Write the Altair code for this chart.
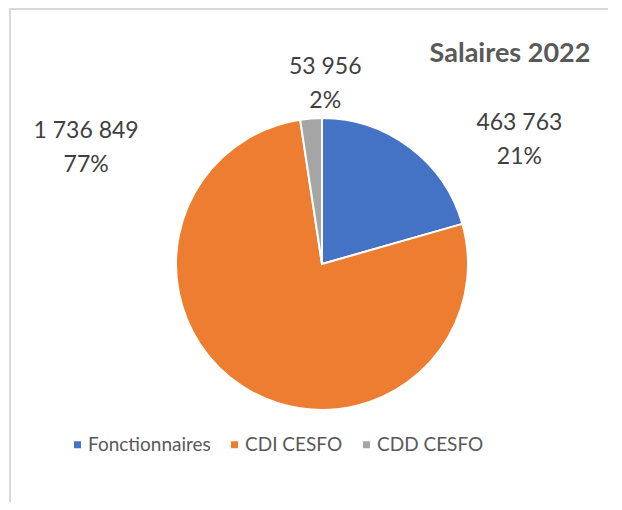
import math
import altair as alt
import pandas as pd

categories = ["Fonctionnaires", "CDI CESFO", "CDD CESFO"]
values = [463763, 1736849, 53956]
colors = ["#4472C4", "#ED7D31", "#A5A5A5"]
title_text = "Salaires 2022"

total = sum(values)
labels = [
    f"{v:,}".replace(",", " ") + "\n" + f"{round(v / total * 100)}%"
    for v in values
]
df = pd.DataFrame({
    "cat": categories,
    "value": values,
    "idx": list(range(len(categories))),
    "label": labels,
})

CX, CY = 314, 256
FONT = "Lato"
W, H = 606, 494

base = alt.Chart(df)

theta = alt.Theta("value:Q", stack=True)
order = alt.Order("idx:Q", sort="ascending")

arc = base.mark_arc(outerRadius=146, stroke="white", strokeWidth=2).encode(
    theta=theta,
    order=order,
    x=alt.value(CX),
    y=alt.value(CY),
    color=alt.Color(
        "cat:N",
        scale=alt.Scale(domain=categories, range=colors),
        sort=categories,
        legend=alt.Legend(
            title=None,
            orient="none",
            legendX=60,
            legendY=427,
            direction="horizontal",
            symbolType="square",
            symbolSize=49,
            symbolStrokeWidth=0,
            labelFont=FONT,
            labelFontSize=19,
            labelColor="#595959",
            labelOffset=1,
            columnPadding=14,
            padding=0,
        ),
    ),
)

offsets = {
    "Fonctionnaires": (95, -5),
    "CDI CESFO": (-144, -276),
    "CDD CESFO": (16, -27),
}

text_layers = []
for cat in categories:
    dx, dy = offsets[cat]
    t = base.mark_text(
        radius=170,
        dx=dx,
        dy=dy,
        font=FONT,
        fontSize=23,
        color="#404040",
        align="center",
        baseline="middle",
        lineBreak="\n",
        lineHeight=34,
    ).encode(
        theta=theta,
        order=order,
        x=alt.value(CX),
        y=alt.value(CY),
        text=alt.condition(
            alt.datum.cat == cat, alt.Text("label:N"), alt.value("")
        ),
    )
    text_layers.append(t)

one = alt.Chart(pd.DataFrame({"a": [0]}))
title = one.mark_text(
    font=FONT, fontSize=27, fontWeight="bold", color="#595959",
    align="center", baseline="middle",
).encode(x=alt.value(502), y=alt.value(46), text=alt.value(title_text))

border_left = one.mark_rect(color="#d9d9d9").encode(
    x=alt.value(1), x2=alt.value(3), y=alt.value(0), y2=alt.value(H)
)
border_top = one.mark_rect(color="#d9d9d9").encode(
    x=alt.value(1), x2=alt.value(W - 6), y=alt.value(0), y2=alt.value(2)
)

chart = alt.layer(border_left, border_top, arc, *text_layers, title).properties(
    width=W,
    height=H,
    padding=0,
    autosize=alt.AutoSizeParams(type="none"),
    background="white",
).configure_view(stroke="transparent", strokeWidth=0)

chart.save("out.html", embed_options={"renderer": "svg", "actions": False})
